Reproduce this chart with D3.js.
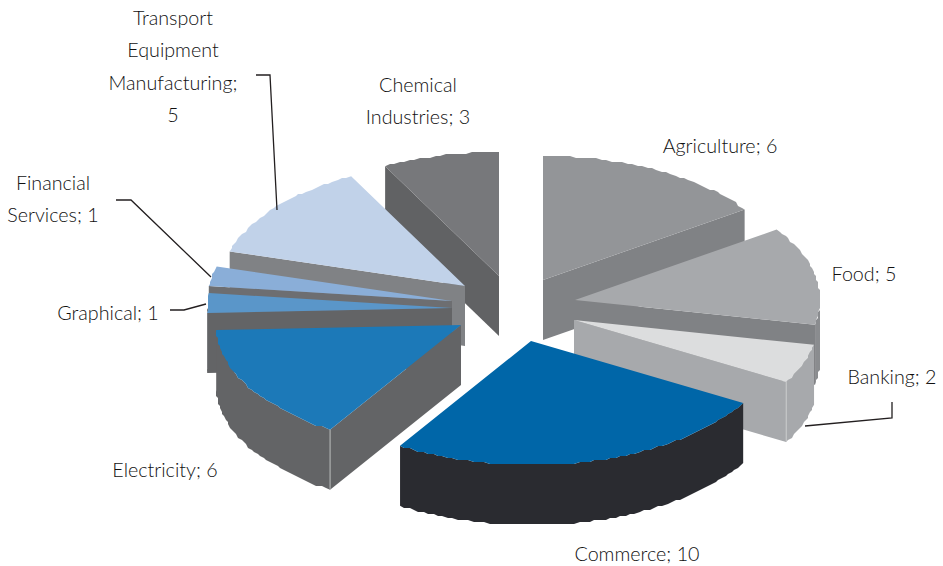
<!doctype html>
<html lang="en">
  <head>
    <meta charset="UTF-8" />
    <title>Sectors pie</title>
    <style>
      body {
        margin: 0;
        background: #fff;
      }
      svg {
        display: block;
      }
      text {
        font-family: Lato, sans-serif;
        font-size: 19.7px;
        font-weight: 300;
        fill: #111;
        text-anchor: middle;
      }
    </style>
  </head>
  <body>
    <svg id="chart" width="943" height="566"></svg>

    <script src="https://d3js.org/d3.v7.min.js"></script>
    <script>
      const categories = [
        "Agriculture",
        "Food",
        "Banking",
        "Commerce",
        "Electricity",
        "Graphical",
        "Financial Services",
        "Transport Equipment Manufacturing",
        "Chemical Industries",
      ];
      const values = [6, 5, 2, 10, 6, 1, 1, 5, 3];

      // words per label line
      const labelBreaks = [[2], [2], [2], [2], [2], [2], [1, 2], [1, 1, 1, 1], [1, 2]];

      // layout
      const apexX = [543, 575, 574, 531, 461, 452, 452, 465, 499];
      const apexY = [280, 300, 320, 341, 325, 308, 301, 286, 276];
      const labelX = [720, 864, 892, 637, 165, 108, 53, 173, 418];
      const labelY = [153, 281, 384, 561, 477, 320, 190, 25, 92];
      const topColors = ["#939598", "#a7a9ac", "#dcddde", "#0066a8", "#1c79b8", "#5a96c9", "#8aaed8", "#c1d2e9", "#77787b"];
      const wallColors = ["#808285", "#808285", "#a7a9ac", "#2a2b30", "#636466", "#636466", "#6d6e71", "#808285", "#616264"];
      const outerColors = ["#808285", "#8a8c8f", "#a7a9ac", "#2a2b30", "#636466", "#636466", "#6d6e71", "#808285", "#616264"];
      const leaders = [
        [[256, 75], [270, 75], [277, 210]],
        [[116, 200], [131, 200], [211, 277]],
        [[170, 310], [184, 310], [206, 304]],
        [[805, 426], [892, 418], [892, 402]],
      ];

      const depth = 60;
      const lineGap = 32.3;

      const svg = d3.select("#chart");

      const pie = d3
        .pie()
        .sort(null)
        .startAngle(0)
        .endAngle(2 * Math.PI);

      // unit circle to ellipse offsets
      const rx = d3.scaleLinear().domain([-1, 1]).range([-245, 245]);
      const ry = d3.scaleLinear().domain([-1, 1]).range([124, -124]);

      const line = d3.line();
      const grid = 2; // the outer edge is stepped, not smooth

      function rim(i, a) {
        return [
          apexX[i] + rx(Math.sin(a)),
          apexY[i] + ry(Math.cos(a)),
        ];
      }

      function rimPoints(i, a0, a1) {
        const n = Math.max(2, Math.ceil((a1 - a0) / 0.022));
        return d3.range(n + 1).map((k) => {
          const p = rim(i, a0 + ((a1 - a0) * k) / n);
          if (k === 0 || k === n) return p;
          return [Math.round(p[0] / grid) * grid, Math.round(p[1] / grid) * grid];
        });
      }

      function drop(points) {
        return points.map((p) => [p[0], p[1] + depth]);
      }

      const arcs = pie(values).map((d, i) => ({ ...d, i }));
      const order = d3.sort(arcs, (d) => apexY[d.i]);

      const slices = svg.append("g").selectAll("g").data(order).join("g");

      slices.each(function (d) {
        const g = d3.select(this);
        const i = d.i;
        const apex = [apexX[i], apexY[i]];

        // flat wall along whichever cut edge faces the viewer
        [d.startAngle, d.endAngle].forEach((a, k) => {
          const facing = k === 0 ? Math.sin(a) < -1e-6 : Math.sin(a) > 1e-6;
          if (!facing) return;
          const p = rim(i, a);
          g.append("path")
            .attr("fill", wallColors[i])
            .attr("d", line([apex, p, [p[0], p[1] + depth], [apex[0], apex[1] + depth]]) + "Z");
        });

        // outer wall, lower half of the ellipse only
        const a0 = Math.max(d.startAngle, Math.PI / 2);
        const a1 = Math.min(d.endAngle, (3 * Math.PI) / 2);
        if (a1 > a0) {
          const edge = rimPoints(i, a0, a1);
          g.append("path")
            .attr("fill", outerColors[i])
            .attr("d", line(edge.concat(drop(edge).reverse())) + "Z");
        }

        // top face
        g.append("path")
          .attr("fill", topColors[i])
          .attr("d", line([apex].concat(rimPoints(i, d.startAngle, d.endAngle))) + "Z");
      });

      // light seam on the two corners that show it
      [[2, arcs[2].endAngle], [4, arcs[4].startAngle]].forEach(([i, a]) => {
        const p = rim(i, a);
        svg
          .append("path")
          .attr("fill", "none")
          .attr("stroke", "#cfd0d2")
          .attr("stroke-width", 0.8)
          .attr("d", line([p, [p[0], p[1] + depth - 1]]));
      });

      svg
        .append("g")
        .selectAll("path")
        .data(leaders)
        .join("path")
        .attr("fill", "none")
        .attr("stroke", "#231f20")
        .attr("stroke-width", 1.3)
        .attr("d", (d) => line(d));

      const labels = svg.append("g").selectAll("text").data(arcs).join("text");

      labels.each(function (d) {
        const i = d.i;
        const words = (categories[i] + "; " + values[i]).split(" ");
        let at = 0;
        labelBreaks[i].forEach((count, k) => {
          d3.select(this)
            .append("tspan")
            .attr("x", labelX[i])
            .attr("y", labelY[i] + k * lineGap)
            .text(words.slice(at, at + count).join(" "));
          at += count;
        });
      });
    </script>
  </body>
</html>
